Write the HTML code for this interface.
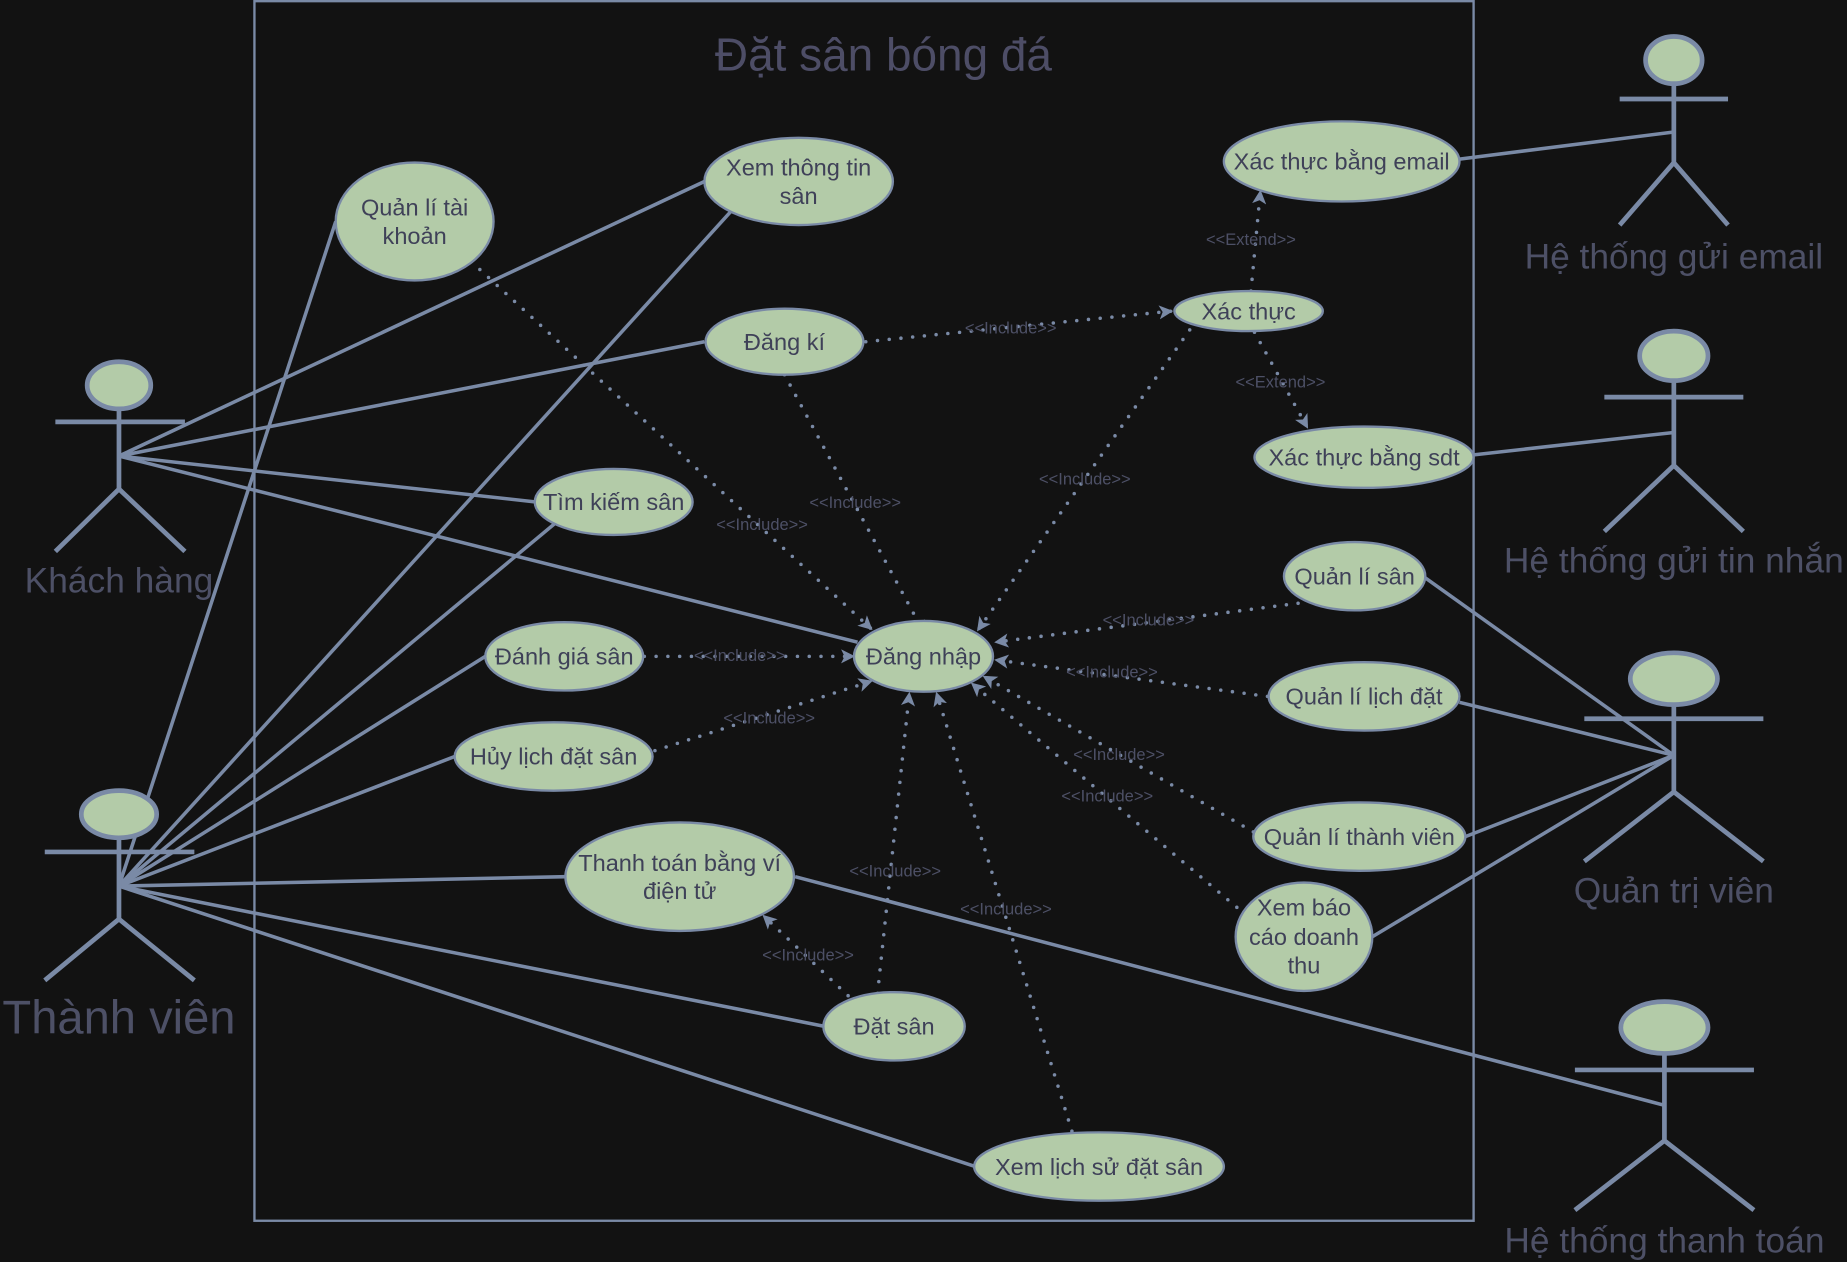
<!DOCTYPE html>
<html><head><meta charset="utf-8"><style>
html,body{margin:0;padding:0;background:#121212;}
svg{display:block;}
text{font-family:"Liberation Sans","DejaVu Sans",sans-serif;}
.uc{fill:#b3cba8;stroke:#7a8aa6;stroke-width:2;}
.ut{fill:#3f4158;font-size:20px;text-anchor:middle;}
.ln{stroke:#7a8aa6;stroke-width:3;fill:none;}
.dt{stroke:#7a8aa6;stroke-width:3;stroke-dasharray:0 10;stroke-linecap:round;fill:none;}
.lb{fill:#4d5066;font-size:14px;text-anchor:middle;}
.act{stroke:#7a8aa6;stroke-width:4;fill:none;}
.head{fill:#b3cba8;stroke:#7a8aa6;stroke-width:4;}
.al{fill:#4d5066;text-anchor:middle;}
</style></head><body>
<svg width="1847" height="1262" viewBox="0 0 1568 1071" preserveAspectRatio="none" xmlns="http://www.w3.org/2000/svg">
<defs><marker id="ar" viewBox="0 0 12 12" refX="11" refY="6" markerWidth="12" markerHeight="12" markerUnits="userSpaceOnUse" orient="auto"><path d="M0,0 L12,6 L0,12 L3,6 Z" fill="#7a8aa6"/></marker></defs>
<rect x="0" y="0" width="1568" height="1071" fill="#121212"/>
<rect x="216" y="1" width="1035" height="1035" fill="none" stroke="#7a8aa6" stroke-width="2"/>
<text x="750" y="60" style="font-size:39px;fill:#4d4d66;text-anchor:middle">Đặt sân bóng đá</text>

<g>
<line class="ln" x1="101" y1="387" x2="598" y2="154"/>
<line class="ln" x1="101" y1="387" x2="598" y2="290"/>
<line class="ln" x1="101" y1="387" x2="455" y2="426"/>
<line class="ln" x1="101" y1="387" x2="728" y2="545"/>
<line class="ln" x1="101" y1="752" x2="285" y2="188"/>
<line class="ln" x1="101" y1="752" x2="620" y2="180"/>
<line class="ln" x1="101" y1="752" x2="475" y2="441"/>
<line class="ln" x1="101" y1="752" x2="412" y2="557"/>
<line class="ln" x1="101" y1="752" x2="386" y2="642"/>
<line class="ln" x1="101" y1="752" x2="480" y2="744"/>
<line class="ln" x1="101" y1="752" x2="700" y2="871"/>
<line class="ln" x1="101" y1="752" x2="828" y2="990"/>
<line class="ln" x1="1421" y1="112" x2="1239" y2="135"/>
<line class="ln" x1="1421" y1="367" x2="1251" y2="386"/>
<line class="ln" x1="1421" y1="641" x2="1208" y2="489"/>
<line class="ln" x1="1421" y1="641" x2="1239" y2="596"/>
<line class="ln" x1="1421" y1="641" x2="1244" y2="710"/>
<line class="ln" x1="1421" y1="641" x2="1165" y2="795"/>
<line class="ln" x1="1413" y1="938" x2="675" y2="744"/>
</g>

<g>
<line class="dt" marker-end="url(#ar)" x1="400" y1="222" x2="740" y2="534"/>
<line class="dt" marker-end="url(#ar)" x1="666" y1="318" x2="785" y2="538"/>
<line class="dt" marker-end="url(#ar)" x1="1010" y1="280" x2="830" y2="535"/>
<line class="dt" marker-end="url(#ar)" x1="547" y1="557" x2="725" y2="557"/>
<line class="dt" marker-end="url(#ar)" x1="556" y1="637" x2="740" y2="578"/>
<line class="dt" marker-end="url(#ar)" x1="1102" y1="512" x2="845" y2="545"/>
<line class="dt" marker-end="url(#ar)" x1="1076" y1="591" x2="845" y2="560"/>
<line class="dt" marker-end="url(#ar)" x1="1064" y1="706" x2="835" y2="574"/>
<line class="dt" marker-end="url(#ar)" x1="1050" y1="770" x2="825" y2="580"/>
<line class="dt" marker-end="url(#ar)" x1="745" y1="843" x2="772" y2="588"/>
<line class="dt" marker-end="url(#ar)" x1="910" y1="960" x2="795" y2="588"/>
<line class="dt" marker-end="url(#ar)" x1="720" y1="845" x2="648" y2="777"/>
<line class="dt" marker-end="url(#ar)" x1="735" y1="290" x2="995" y2="264"/>
<line class="dt" marker-end="url(#ar)" x1="1062" y1="247" x2="1070" y2="162"/>
<line class="dt" marker-end="url(#ar)" x1="1065" y1="282" x2="1110" y2="363"/>
<text class="lb" x="647" y="450">&lt;&lt;Include&gt;&gt;</text>
<text class="lb" x="726" y="431">&lt;&lt;Include&gt;&gt;</text>
<text class="lb" x="921" y="411">&lt;&lt;Include&gt;&gt;</text>
<text class="lb" x="628" y="561">&lt;&lt;Include&gt;&gt;</text>
<text class="lb" x="653" y="614">&lt;&lt;Include&gt;&gt;</text>
<text class="lb" x="975" y="531">&lt;&lt;Include&gt;&gt;</text>
<text class="lb" x="944" y="575">&lt;&lt;Include&gt;&gt;</text>
<text class="lb" x="950" y="645">&lt;&lt;Include&gt;&gt;</text>
<text class="lb" x="940" y="680">&lt;&lt;Include&gt;&gt;</text>
<text class="lb" x="760" y="744">&lt;&lt;Include&gt;&gt;</text>
<text class="lb" x="854" y="776">&lt;&lt;Include&gt;&gt;</text>
<text class="lb" x="686" y="815">&lt;&lt;Include&gt;&gt;</text>
<text class="lb" x="858" y="283">&lt;&lt;Include&gt;&gt;</text>
<text class="lb" x="1062" y="208">&lt;&lt;Extend&gt;&gt;</text>
<text class="lb" x="1087" y="329">&lt;&lt;Extend&gt;&gt;</text>
</g>

<g><ellipse class="uc" cx="352" cy="188" rx="67" ry="50"/><text class="ut" x="352" y="183">Quản lí tài</text><text class="ut" x="352" y="207">khoản</text></g>
<g><ellipse class="uc" cx="678" cy="154" rx="80" ry="37"/><text class="ut" x="678" y="149">Xem thông tin</text><text class="ut" x="678" y="173">sân</text></g>
<g><ellipse class="uc" cx="666" cy="290" rx="67" ry="28"/><text class="ut" x="666" y="297">Đăng kí</text></g>
<g><ellipse class="uc" cx="521" cy="426" rx="67" ry="28"/><text class="ut" x="521" y="433">Tìm kiếm sân</text></g>
<g><ellipse class="uc" cx="479" cy="557" rx="67" ry="29"/><text class="ut" x="479" y="564">Đánh giá sân</text></g>
<g><ellipse class="uc" cx="470" cy="642" rx="84" ry="29"/><text class="ut" x="470" y="649">Hủy lịch đặt sân</text></g>
<g><ellipse class="uc" cx="577" cy="744" rx="97" ry="46"/><text class="ut" x="577" y="739">Thanh toán bằng ví</text><text class="ut" x="577" y="763">điện tử</text></g>
<g><ellipse class="uc" cx="759" cy="871" rx="60" ry="29"/><text class="ut" x="759" y="878">Đặt sân</text></g>
<g><ellipse class="uc" cx="933" cy="990" rx="106" ry="29"/><text class="ut" x="933" y="997">Xem lịch sử đặt sân</text></g>
<g><ellipse class="uc" cx="784" cy="557" rx="59" ry="30"/><text class="ut" x="784" y="564">Đăng nhập</text></g>
<g><ellipse class="uc" cx="1139" cy="137" rx="100" ry="34"/><text class="ut" x="1139" y="144">Xác thực bằng email</text></g>
<g><ellipse class="uc" cx="1060" cy="264" rx="63" ry="17"/><text class="ut" x="1060" y="271">Xác thực</text></g>
<g><ellipse class="uc" cx="1158" cy="388" rx="93" ry="26"/><text class="ut" x="1158" y="395">Xác thực bằng sdt</text></g>
<g><ellipse class="uc" cx="1150" cy="489" rx="60" ry="29"/><text class="ut" x="1150" y="496">Quản lí sân</text></g>
<g><ellipse class="uc" cx="1158" cy="591" rx="81" ry="29"/><text class="ut" x="1158" y="598">Quản lí lịch đặt</text></g>
<g><ellipse class="uc" cx="1154" cy="710" rx="90" ry="29"/><text class="ut" x="1154" y="717">Quản lí thành viên</text></g>
<g><ellipse class="uc" cx="1107" cy="795" rx="58" ry="46"/><text class="ut" x="1107" y="777">Xem báo</text><text class="ut" x="1107" y="802">cáo doanh</text><text class="ut" x="1107" y="826">thu</text></g>

<g><ellipse class="head" cx="101" cy="327" rx="27" ry="20"/><path class="act" d="M101 347V415M47 358H157M101 415L47 468M101 415L157 468"/><text class="al" x="101" y="503" style="font-size:30px">Khách hàng</text></g>
<g><ellipse class="head" cx="101" cy="691" rx="32" ry="20"/><path class="act" d="M101 711V780M38 723H165M101 780L38 832M101 780L165 832"/><text class="al" x="101" y="877" style="font-size:40px">Thành viên</text></g>
<g><ellipse class="head" cx="1421" cy="51" rx="24" ry="20"/><path class="act" d="M1421 71V138M1375 84H1467M1421 138L1375 191M1421 138L1467 191"/><text class="al" x="1421" y="228" style="font-size:30px">Hệ thống gửi email</text></g>
<g><ellipse class="head" cx="1421" cy="302" rx="29" ry="21"/><path class="act" d="M1421 323V395M1362 337H1480M1421 395L1362 451M1421 395L1480 451"/><text class="al" x="1421" y="486" style="font-size:30px">Hệ thống gửi tin nhắn</text></g>
<g><ellipse class="head" cx="1421" cy="576" rx="37" ry="22"/><path class="act" d="M1421 598V672M1345 610H1497M1421 672L1345 731M1421 672L1497 731"/><text class="al" x="1421" y="766" style="font-size:30px">Quản trị viên</text></g>
<g><ellipse class="head" cx="1413" cy="872" rx="37" ry="22"/><path class="act" d="M1413 894V968M1337 908H1489M1413 968L1337 1027M1413 968L1489 1027"/><text class="al" x="1413" y="1063" style="font-size:30px">Hệ thống thanh toán</text></g>
</svg>
</body></html>
